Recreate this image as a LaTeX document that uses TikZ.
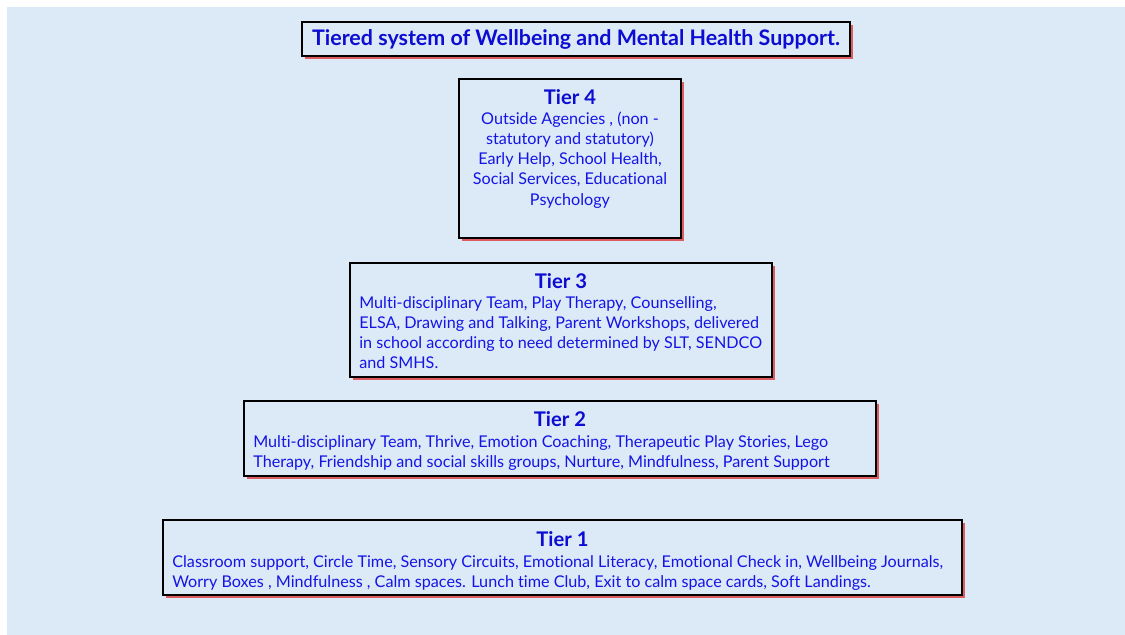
\documentclass[tikz,border=0pt]{standalone}
\usepackage{fontspec}
\setmainfont{Lato}[Ligatures=NoCommon]
\usepackage{tikz}
\usetikzlibrary{shadows}
\definecolor{paper}{HTML}{DCE9F6}
\definecolor{tierblue}{HTML}{1414E6}
\definecolor{headblue}{HTML}{0C0CD2}
\definecolor{glow}{HTML}{E02020}

\begin{document}
\begin{tikzpicture}[x=0.02cm,y=-0.02cm,
  tierbox/.style={draw=black, line width=1.2pt, fill=paper, inner sep=0pt, drop shadow={shadow xshift=1.9pt, shadow yshift=-1.5pt, fill=glow, opacity=0.7}},
  head/.style={font=\fontsize{11.5}{13}\selectfont\bfseries, text=headblue, inner sep=0pt},
  body/.style={font=\fontsize{9.2}{11.4}\selectfont, text=tierblue, inner sep=0pt, anchor=north west, align=left}]
\useasboundingbox (0,0) rectangle (1125,635);
\fill[white] (0,0) rectangle (1125,635);
\fill[paper] (7,7) rectangle (1125,635);
% title
\node[tierbox, minimum width=548*0.02cm, minimum height=34*0.02cm] (title) at (576,39) {};
\node[font=\fontsize{12.2}{14}\selectfont\bfseries, text=headblue, inner sep=0pt] (titletext) at (title.center) {Tiered system of Wellbeing and Mental Health Support.};
% tier boxes
\foreach \i/\cx/\cy/\w/\h/\hy in {
  4/570/158.5/222/159/97,
  3/561/320/422/114/281,
  2/560/438.5/632/75/419,
  1/562.5/557.5/799/75/539}{
  \node[tierbox, minimum width=\w*0.02cm, minimum height=\h*0.02cm] (t\i) at (\cx,\cy) {};
  \node[head] (h\i) at (\cx,\hy) {Tier \i};
}
\node[body, anchor=north, align=center] (b4) at (570,112) {Outside Agencies , (non -\\statutory and statutory)\\Early Help, School Health,\\Social Services, Educational\\Psychology};
\node[body] (b3) at (359,296) {Multi-disciplinary Team, Play Therapy, Counselling,\\ELSA, Drawing and Talking, Parent Workshops, delivered\\in school according to need determined by SLT, SENDCO\\and SMHS.};
\node[body] (b2) at (253,435) {Multi-disciplinary Team, Thrive, Emotion Coaching, Therapeutic Play Stories, Lego\\Therapy, Friendship and social skills groups, Nurture, Mindfulness, Parent Support};
\node[body] (b1) at (172,555) {Classroom support, Circle Time, Sensory Circuits, Emotional Literacy, Emotional Check in, Wellbeing Journals,\\Worry Boxes , Mindfulness , Calm spaces. Lunch time Club, Exit to calm space cards, Soft Landings.};
\end{tikzpicture}
\end{document}
